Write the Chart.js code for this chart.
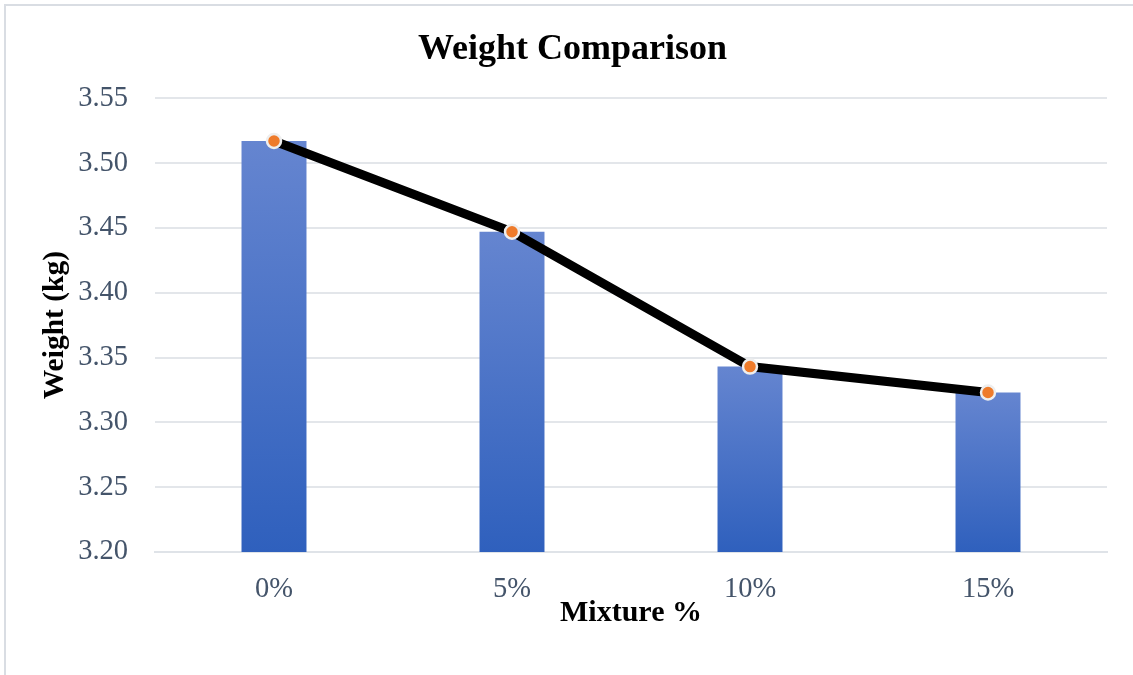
<!DOCTYPE html>
<html lang="en">
<head>
  <meta charset="UTF-8">
  <title>Weight Comparison</title>
  <script src="https://cdn.jsdelivr.net/npm/chart.js"></script>
  <style>
    body {
      margin: 0;
      background: #fff;
    }
    .frame {
      position: absolute;
      left: 4px;
      top: 4px;
      width: 1140px;
      height: 690px;
      border: 2px solid #d9dde3;
    }
    canvas {
      position: absolute;
      left: 0;
      top: 0;
    }
  </style>
</head>
<body>
  <div class="frame"></div>
  <canvas id="weightChart" width="1133" height="675"></canvas>

  <script>
    // Chart data
    const mixtures = ['0%', '5%', '10%', '15%'];
    const weights = [3.517, 3.447, 3.343, 3.323];
    const yMin = 3.20;
    const yMax = 3.55;
    const yStep = 0.05;

    const serif = '"Liberation Serif", "Times New Roman", serif';

    // vertical gradient for each bar, lighter at top
    function barGradient(context) {
      const chart = context.chart;
      const area = chart.chartArea;
      if (!area) return '#3f6cc6';
      const top = chart.scales.y.getPixelForValue(context.raw);
      const g = chart.ctx.createLinearGradient(0, top, 0, area.bottom);
      g.addColorStop(0, '#6585d0');
      g.addColorStop(1, '#2f60bd');
      return g;
    }

    const ctx = document.getElementById('weightChart').getContext('2d');
    new Chart(ctx, {
      data: {
        labels: mixtures,
        datasets: [
          {
            type: 'line',
            data: weights,
            borderColor: '#000000',
            borderWidth: 9,
            pointRadius: 7,
            pointBorderWidth: 2.5,
            pointBackgroundColor: '#ee7b2b',
            pointBorderColor: '#eeeeee',
            tension: 0,
            order: 0
          },
          {
            type: 'bar',
            data: weights,
            backgroundColor: barGradient,
            categoryPercentage: 1,
            barPercentage: 0.273,
            order: 1
          }
        ]
      },
      options: {
        responsive: false,
        animation: false,
        layout: {
          padding: { left: 38, right: 26, top: 0, bottom: 44 }
        },
        plugins: {
          legend: { display: false },
          tooltip: { enabled: false },
          title: {
            display: true,
            text: 'Weight Comparison',
            color: '#000',
            font: { family: serif, size: 36, weight: 'bold' },
            padding: { top: 28, bottom: 27 }
          }
        },
        scales: {
          x: {
            grid: { display: false },
            border: { color: '#dfe3e8', width: 2 },
            ticks: {
              color: '#44546a',
              font: { family: serif, size: 28.5 },
              padding: 12
            },
            title: {
              display: true,
              text: 'Mixture %',
              color: '#000',
              font: { family: serif, size: 30, weight: 'bold' },
              padding: 0
            },
            afterFit: (scale) => { scale.height = 79; }
          },
          y: {
            min: yMin,
            max: yMax,
            grid: { color: '#e3e6ea', lineWidth: 2, drawTicks: false },
            border: { display: false },
            ticks: {
              stepSize: yStep,
              color: '#44546a',
              font: { family: serif, size: 28.5 },
              padding: 27,
              callback: (v) => v.toFixed(2)
            },
            title: {
              display: true,
              text: 'Weight (kg)',
              color: '#000',
              font: { family: serif, size: 29.5, weight: 'bold' },
              padding: 0
            },
            afterFit: (scale) => { scale.width = 117; }
          }
        }
      }
    });
  </script>
</body>
</html>
